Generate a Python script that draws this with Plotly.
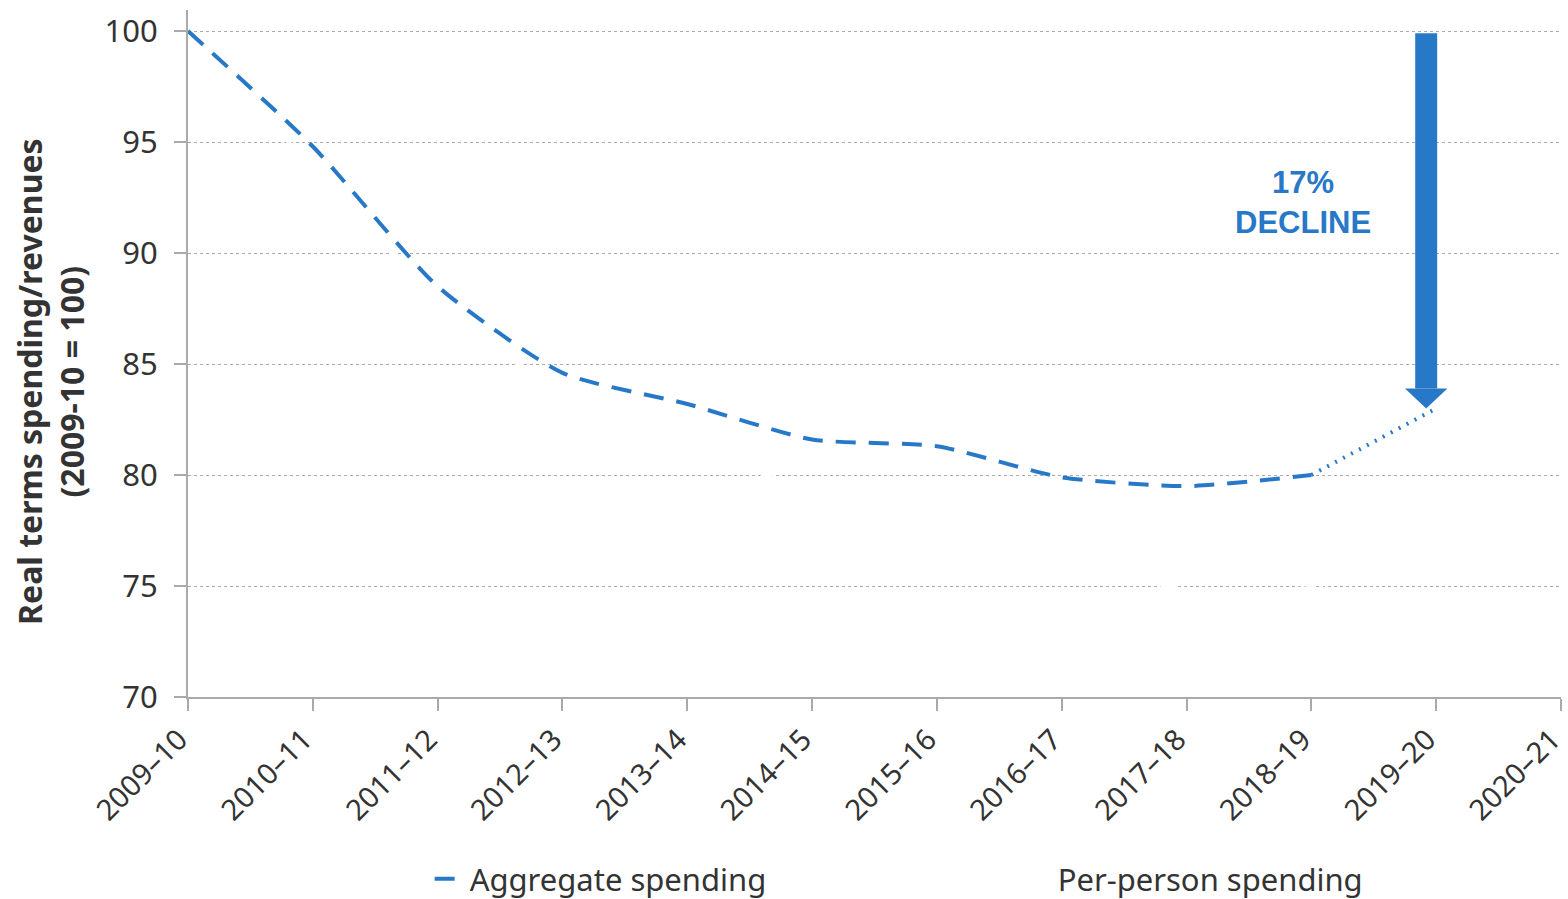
import plotly.graph_objects as go

years = ["2009–10", "2010–11", "2011–12", "2012–13", "2013–14", "2014–15",
         "2015–16", "2016–17", "2017–18", "2018–19", "2019–20", "2020–21"]

# Real-terms index, 2009-10 = 100
aggregate = [100, 94.8, 88.5, 84.6, 83.2, 81.6, 81.3, 79.9, 79.5, 80.0]
aggregate_projection = [80.0, 83.0]          # 2018-19 -> 2019-20
per_person = [100, 93.8, 88.0, 83.6, 81.3, 79.3, 78.0, 76.4, 74.8, 74.9]
per_person_projection = [74.9, 76.6]

decline_top = 100
decline_bottom = 83.0
decline_label = "17%<br>DECLINE"

BLUE = "#2878C8"
FONT = "Noto Sans"

x_idx = list(range(len(years)))

fig = go.Figure()

# Per-person spending drawn in white
fig.add_trace(go.Scatter(
    x=x_idx[:len(per_person)], y=per_person, mode="lines",
    line=dict(color="white", width=4, shape="spline", smoothing=0.6),
    name="Per-person spending", showlegend=True))
fig.add_trace(go.Scatter(
    x=x_idx[len(per_person) - 1:len(per_person) + 1], y=per_person_projection,
    mode="lines", line=dict(color="white", width=4, dash="dot"),
    showlegend=False, hoverinfo="skip"))

# Aggregate spending
fig.add_trace(go.Scatter(
    x=x_idx[:len(aggregate)], y=aggregate, mode="lines",
    line=dict(color=BLUE, width=4, dash="20px,13px", shape="spline", smoothing=0.6),
    name="Aggregate spending", showlegend=True))
fig.add_trace(go.Scatter(
    x=x_idx[len(aggregate) - 1:len(aggregate) + 1], y=aggregate_projection,
    mode="lines", line=dict(color=BLUE, width=4, dash="2px,7px"),
    showlegend=False, hoverinfo="skip"))

# Decline arrow: shaft plus head
arrow_x = 9.92
shaft_half = 0.088
head_half = 0.17
head_len = 0.9
fig.add_shape(type="rect", xref="x", yref="y",
              x0=arrow_x - shaft_half, x1=arrow_x + shaft_half,
              y0=decline_bottom + head_len, y1=decline_top - 0.1,
              fillcolor=BLUE, line=dict(width=0), layer="above")
fig.add_shape(type="path", xref="x", yref="y",
              path=(f"M {arrow_x - head_half} {decline_bottom + head_len} "
                    f"L {arrow_x + head_half} {decline_bottom + head_len} "
                    f"L {arrow_x} {decline_bottom} Z"),
              fillcolor=BLUE, line=dict(width=0), layer="above")

fig.add_annotation(x=8.93, y=92.3, xref="x", yref="y", text=decline_label,
                   showarrow=False, align="center",
                   font=dict(family="Arial", size=31, color=BLUE, weight="bold"))

# Y-axis title
fig.add_annotation(x=-0.0998, y=0.46, xref="paper", yref="paper",
                   text="<b>Real terms spending/revenues<br>(2009-10 = 100)</b>",
                   textangle=-90, showarrow=False, align="center",
                   xanchor="center", yanchor="middle",
                   font=dict(size=32, family=FONT, color="#333333"))

fig.update_layout(
    width=1568, height=899,
    margin=dict(l=188, r=7, t=10, b=202, autoexpand=False),
    paper_bgcolor="white", plot_bgcolor="white",
    font=dict(family=FONT, color="#333333"),
    showlegend=True,
    legend=dict(orientation="h", x=0.176, xanchor="left",
                yref="container", y=0.022, yanchor="middle",
                font=dict(size=31, family=FONT, color="#333333"),
                entrywidth=543, traceorder="reversed",
                bgcolor="rgba(0,0,0,0)"),
)

fig.update_xaxes(
    range=[-0.0001, 11.0001], tickmode="array", tickvals=x_idx, ticktext=years,
    tickangle=-45, tickfont=dict(size=29, family=FONT, color="#333333"),
    ticklabeloverflow="allow", ticklabelshift=-9,
    showgrid=False, zeroline=False, automargin=False,
    showline=True, linecolor="#aaaaaa", linewidth=2,
    ticks="outside", ticklen=12, tickcolor="#aaaaaa", tickwidth=2,
)
fig.update_yaxes(
    range=[70, 100.95], tickvals=[70, 75, 80, 85, 90, 95, 100],
    tickfont=dict(size=31, family=FONT, color="#333333"),
    ticklabelstandoff=10,
    showgrid=True, gridcolor="#aaaaaa", griddash="dot", gridwidth=1,
    zeroline=False, showline=True, linecolor="#aaaaaa", linewidth=2,
    ticks="outside", ticklen=12, tickcolor="#aaaaaa", tickwidth=2,
    automargin=False,
)

fig.write_html("out.html")
